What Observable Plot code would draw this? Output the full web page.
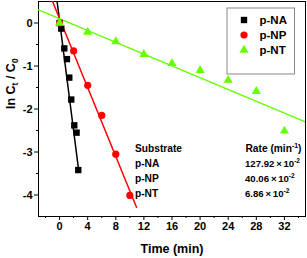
<!DOCTYPE html>
<html><head><meta charset="utf-8">
<script src="https://cdn.jsdelivr.net/npm/d3@7"></script>
<script src="https://cdn.jsdelivr.net/npm/@observablehq/plot@0.6"></script>
<style>
body{margin:0;background:#fff}
#chart svg{font-family:"Liberation Sans",Arial,sans-serif;font-weight:bold;font-size:11px}
</style>
</head><body><div id="chart"></div>
<script>
// ---- data ----
const series = ["p-NA", "p-NP", "p-NT"];
const colors = ["#000000", "#ff0000", "#66ff00"];
const symbols = ["square", "circle", "triangle"];
const naTime = [0, 0.24, 0.67, 1.05, 1.38, 1.66, 2.09, 2.42, 2.66];
const naLn   = [0, -0.13, -0.59, -0.84, -1.27, -1.78, -2.38, -2.55, -3.42];
const npTime = [0, 2, 4, 6, 8, 10];
const npLn   = [0, -0.65, -1.45, -2.15, -3.05, -4.01];
const ntTime = [0, 4, 8, 12, 16, 20, 24, 28, 32];
const ntLn   = [0, -0.21, -0.43, -0.73, -0.94, -1.10, -1.33, -1.59, -2.51];
const rateValues = [127.92, 40.06, 6.86];          // x 10^-2 min^-1
const rateLabels = ["127.92 ×{ }10^{-2}", "40.06 ×{ }10^{-2}", "6.86 ×{ }10^{-2}"];
const fitIntercept = [0.05, 0.1, 0.1];
const fitStart = [-3, -3, -3];
const fitEnd = [2.7, 10.95, 35];
const xTicks = [0, 4, 8, 12, 16, 20, 24, 28, 32];
const xMinor = [-2, 2, 6, 10, 14, 18, 22, 26, 30, 34];
const yTicks = [0, -1, -2, -3, -4];
const yMinor = [-0.5, -1.5, -2.5, -3.5];

// ---- tables built from arrays ----
const times = [naTime, npTime, ntTime];
const lns = [naLn, npLn, ntLn];
const points = [];
series.forEach((s, i) => times[i].forEach((t, j) => points.push({s, i, t, v: lns[i][j]})));
const fits = [];
series.forEach((s, i) => {
  const k = rateValues[i] / 100;
  [fitStart[i], fitEnd[i]].forEach(t => fits.push({s, i, t, v: fitIntercept[i] - k * t}));
});
const legendItems = series.map((s, i) => ({s, i}));

const W = 307, H = 258;
const mL = 38, mR = 2, mT = 1, mB = 42;

const marks = [
  Plot.frame({stroke: "#000", strokeWidth: 1}),
  Plot.axisX(xTicks, {tickSize: 4, tickPadding: 2, label: null, tickFormat: d => String(d), fontSize: 11}),
  Plot.axisX(xMinor, {tickSize: 2, label: null, tickFormat: () => ""}),
  Plot.axisY(yTicks, {tickSize: 4, tickPadding: 2, label: null, tickFormat: d => String(d), fontSize: 11}),
  Plot.axisY(yMinor, {tickSize: 2, label: null, tickFormat: () => ""}),
  Plot.line(fits, {x: "t", y: "v", z: "s", stroke: d => colors[d.i], strokeWidth: 1.5, clip: true}),
];
series.forEach((s, i) => {
  marks.push(Plot.dot(points.filter(d => d.i === i), {
    x: "t", y: "v", symbol: () => symbols[i], fill: colors[i], stroke: "none",
    r: i === 2 ? 3.4 : 3.6
  }));
});
// legend box
marks.push(Plot.frame({stroke: "#888", strokeWidth: 1, fill: "#fff",
  insetLeft: 188.5, insetRight: 11, insetTop: 6.5, insetBottom: 142.5}));
legendItems.forEach(({s, i}) => {
  marks.push(Plot.dot([s], {frameAnchor: "top-left", dx: 205.5, dy: 18.5 + 15 * i,
    symbol: () => symbols[i], fill: colors[i], stroke: "none", r: i === 2 ? 3.4 : 3.6}));
  marks.push(Plot.text([s], {frameAnchor: "top-left", dx: 221, dy: 18.5 + 15 * i, text: d => d,
    textAnchor: "start", lineAnchor: "middle", fontSize: 11.5, fontWeight: "bold", fill: "#000"}));
});
// rate table
const tfs = 10.2;
marks.push(Plot.text(["Substrate"], {frameAnchor: "top-left", dx: 96.5, dy: 147.5, text: d => d,
  textAnchor: "start", lineAnchor: "middle", fontSize: tfs, fontWeight: "bold"}));
marks.push(Plot.text(["Rate (min^{-1})"], {frameAnchor: "top-left", dx: 207, dy: 147.5, text: d => d,
  textAnchor: "start", lineAnchor: "middle", fontSize: tfs, fontWeight: "bold"}));
series.forEach((s, i) => {
  marks.push(Plot.text([s], {frameAnchor: "top-left", dx: 96.5, dy: 162.5 + 15 * i, text: d => d,
    textAnchor: "start", lineAnchor: "middle", fontSize: tfs, fontWeight: "bold"}));
  marks.push(Plot.text([rateLabels[i]], {frameAnchor: "top-left", dx: 206.5, dy: 162.5 + 15 * i, text: d => d,
    textAnchor: "start", lineAnchor: "middle", fontSize: 9.6, fontWeight: "bold"}));
});
// axis titles
marks.push(Plot.text(["ln C_{t} / C_{0}"], {frameAnchor: "left", dx: -28, rotate: -90, text: d => d,
  fontSize: 12.5, fontWeight: "bold"}));
marks.push(Plot.text(["Time (min)"], {frameAnchor: "bottom", dy: 32, text: d => d,
  fontSize: 12.5, fontWeight: "bold", lineAnchor: "middle"}));

const svg = Plot.plot({
  width: W, height: H,
  marginLeft: mL, marginRight: mR, marginTop: mT, marginBottom: mB,
  x: {domain: [-3, 35]},
  y: {domain: [-4.5, 0.5]},
  style: {background: "#fff", fontFamily: "Liberation Sans, Arial, sans-serif", fontWeight: "bold", fontSize: "11px", color: "#000"},
  marks
});
document.getElementById("chart").appendChild(svg);

// rich text: _{sub}, ^{sup}, and {x} thin gap
d3.select(svg).selectAll("text").each(function () {
  const s = this.textContent;
  if (!/[_^]?\{/.test(s) || this.querySelector("tspan")) return;
  const parts = s.split(/([_^]?\{[^}]*\})/).filter(p => p.length);
  const el = d3.select(this);
  el.text(null);
  let shift = 0;
  parts.forEach(p => {
    const m = p.match(/^([_^])\{([^}]*)\}$/);
    const g = p.match(/^\{([^}]*)\}$/);
    if (m) {
      const target = m[1] === "_" ? 3 : -4;
      el.append("tspan").attr("dy", target - shift).attr("font-size", "68%").text(m[2]);
      shift = target;
    } else if (g) {
      el.append("tspan").attr("dy", -shift).attr("font-size", "60%").text(g[1]);
      shift = 0;
    } else {
      const t = p.replace(/ × $/, " ×").replace(/ ×$/, "\u2009×");
      el.append("tspan").attr("dy", -shift).text(t);
      shift = 0;
    }
  });
});
</script>
</body></html>
